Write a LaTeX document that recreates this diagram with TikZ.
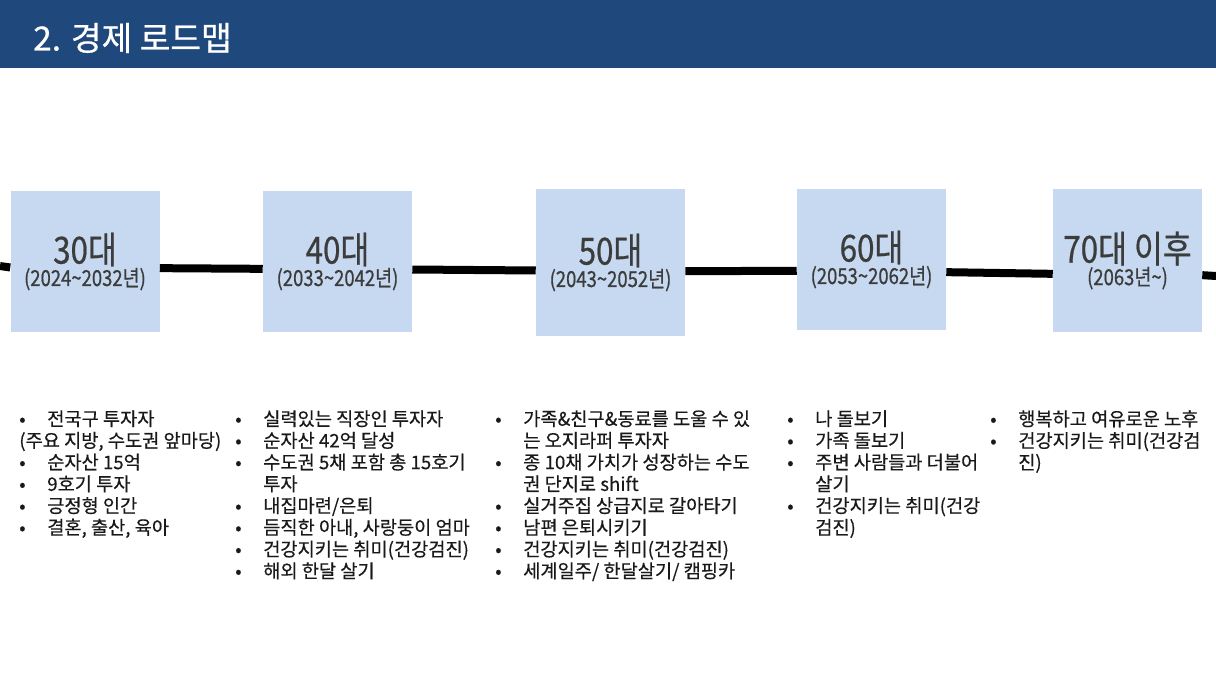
\documentclass[tikz,border=0pt]{standalone}
\usepackage{fontspec}
\setmainfont[FakeBold=0.4]{Noto Sans CJK KR}
\newfontfamily\narrowkr[FakeStretch=0.84,FakeBold=0.6]{Noto Sans CJK KR}
\newfontfamily\titlekr[FakeBold=0.7]{Noto Sans CJK KR}
\usetikzlibrary{positioning}
\definecolor{headblue}{RGB}{31,73,125}
\definecolor{boxblue}{RGB}{198,217,240}
\definecolor{labelgray}{RGB}{60,60,60}
\def\bul{\makebox[21pt][l]{•}}
\def\hang{\hspace*{21pt}}
\def\agefont{\narrowkr\fontsize{28}{26}\selectfont}
\def\yearfont{\narrowkr\fontsize{16.5}{17}\selectfont}
\tikzset{
  agebox/.style={fill=boxblue, text=labelgray, align=center, inner sep=0pt,
    minimum width=111.75pt, minimum height=105.75pt},
  timeline/.style={line width=6pt},
  plan/.style={anchor=north west, align=left, inner sep=0pt, text=black!90,
    font=\fontsize{14}{16.3}\selectfont}
}
\def\RoadmapBoxes{
    \node[agebox] (age30) at (85,261.5) {{\agefont 30대}\\{\yearfont (2024\textasciitilde2032년)}};
    \node[agebox] (age40) at (337.5,261.5) {{\agefont 40대}\\{\yearfont (2033\textasciitilde2042년)}};
    \node[agebox, minimum height=110.25pt] (age50) at (610.5,262.5) {{\agefont 50대}\\{\yearfont (2043\textasciitilde2052년)}};
    \node[agebox] (age60) at (871.5,259.5) {{\agefont 60대}\\{\yearfont (2053\textasciitilde2062년)}};
    \node[agebox, minimum height=107.25pt] (age70) at (1127.5,260.5) {{\agefont 70대 이후}\\{\yearfont (2063년\textasciitilde)}};
}

\begin{document}
\begin{tikzpicture}[x=0.75pt, y=-0.75pt]
    \useasboundingbox (0,0) rectangle (1216,684);
    \fill[headblue] (0,0) rectangle (1216,68);
    \node[anchor=west, text=white, inner sep=0pt, font=\titlekr\fontsize{25}{25}\selectfont] (title) at (33,38) {2. 경제 로드맵};
    \RoadmapBoxes
    \coordinate (tl-start) at (0,266);
    \coordinate (tl-end) at (1216,276);
    \draw[timeline] (tl-start) -- ([yshift=-4.5pt]age30.west);
    \draw[timeline] ([yshift=-5pt]age30.east) -- ([yshift=-5.5pt]age40.west);
    \draw[timeline] ([yshift=-6pt]age40.east) -- ([yshift=-6pt]age50.west);
    \draw[timeline] ([yshift=-6.5pt]age50.east) -- ([yshift=-8.5pt]age60.west);
    \draw[timeline] ([yshift=-9.5pt]age60.east) -- ([yshift=-10pt]age70.west);
    \draw[timeline] ([yshift=-11pt]age70.east) -- (tl-end);
    \node[plan] (plan30) at (19,410) {\bul 전국구 투자자\\(주요 지방, 수도권 앞마당)\\\bul 순자산 15억\\\bul 9호기 투자\\\bul 긍정형 인간\\\bul 결혼, 출산, 육아};
    \node[plan] (plan40) at (235,410) {\bul 실력있는 직장인 투자자\\\bul 순자산 42억 달성\\\bul 수도권 5채 포함 총 15호기\\\hang 투자\\\bul 내집마련/은퇴\\\bul 듬직한 아내, 사랑둥이 엄마\\\bul 건강지키는 취미(건강검진)\\\bul 해외 한달 살기};
    \node[plan] (plan50) at (495,410) {\bul 가족\&친구\&동료를 도울 수 있\\\hang 는 오지라퍼 투자자\\\bul 종 10채 가치가 성장하는 수도\\\hang 권 단지로 shift\\\bul 실거주집 상급지로 갈아타기\\\bul 남편 은퇴시키기\\\bul 건강지키는 취미(건강검진)\\\bul 세계일주/ 한달살기/ 캠핑카};
    \node[plan] (plan60) at (787,410) {\bul 나 돌보기\\\bul 가족 돌보기\\\bul 주변 사람들과 더불어\\\hang 살기\\\bul 건강지키는 취미(건강\\\hang 검진)};
    \node[plan] (plan70) at (990,410) {\bul 행복하고 여유로운 노후\\\bul 건강지키는 취미(건강검\\\hang 진)};
\end{tikzpicture}
\end{document}
